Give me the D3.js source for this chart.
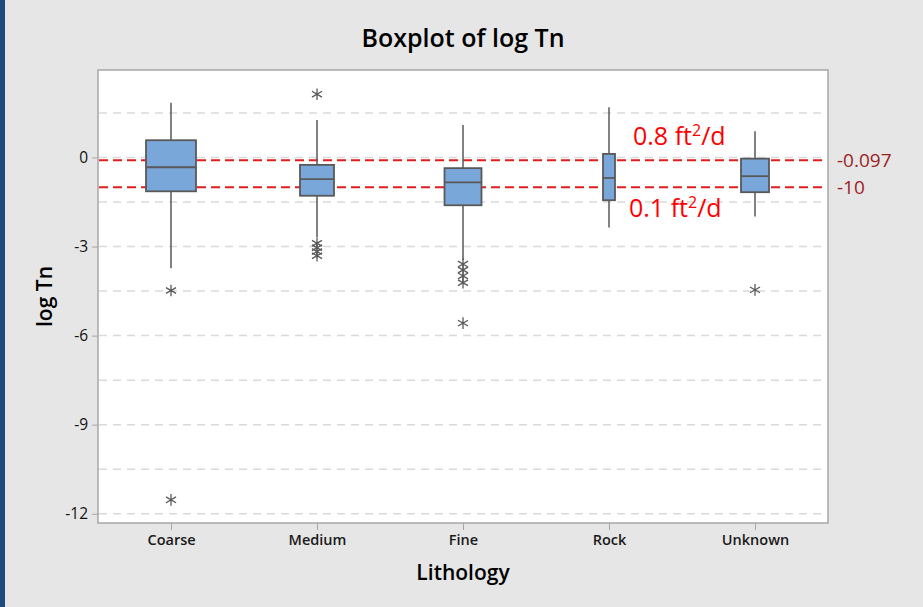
<!DOCTYPE html>
<html>
<head>
<meta charset="utf-8">
<script src="https://cdn.jsdelivr.net/npm/d3@7"></script>
<style>
  html, body { margin: 0; padding: 0; background: #e6e6e6; }
  body { width: 923px; height: 607px; overflow: hidden; }
  svg { display: block; font-family: "Segoe UI", "Open Sans", sans-serif; }
</style>
</head>
<body>
<div id="chart"></div>
<script>
// data
const categories = ["Coarse", "Medium", "Fine", "Rock", "Unknown"];
const whiskerHigh = [1.84, 1.26, 1.09, 1.69, 0.88];
const q3 = [0.58, -0.25, -0.36, 0.12, -0.04];
const median = [-0.33, -0.73, -0.84, -0.69, -0.63];
const q1 = [-1.14, -1.29, -1.61, -1.44, -1.17];
const whiskerLow = [-3.73, -2.69, -3.45, -2.36, -1.99];
const outliers = [
  [-4.48, -11.53],
  [2.13, -2.89, -3.04, -3.17, -3.31],
  [-3.59, -3.79, -3.99, -4.22, -5.58],
  [],
  [-4.46]
];
// relative box widths (boxes drawn proportional to group size)
const boxWidthRel = [1, 0.68, 0.74, 0.24, 0.56];
const yTicks = [0, -3, -6, -9, -12];
const gridValues = [1.5, 0, -1.5, -3, -4.5, -6, -7.5, -9, -10.5, -12];
const refValues = [-0.097, -1.0];
const refLabels = ["-0.097", "-10"];

const W = 923, H = 607;
const margin = { top: 70, right: 95, bottom: 84, left: 98 };
const width = W - margin.left - margin.right;
const height = H - margin.top - margin.bottom;
const maxBox = 50;
const font = "\"Segoe UI\", \"Open Sans\", sans-serif";

const svg = d3.select("#chart").append("svg")
  .attr("width", W)
  .attr("height", H);

// left blue stripe
svg.append("rect").attr("x", 0).attr("y", 0).attr("width", 5).attr("height", H).attr("fill", "#1e4a7c");

const g = svg.append("g").attr("transform", `translate(${margin.left},${margin.top})`);

const x = d3.scalePoint().domain(categories).range([0, width]).padding(0.5);
const y = d3.scaleLinear().domain([-12.31, 2.945]).range([height, 0]);

// plot area
g.append("rect")
  .attr("width", width).attr("height", height)
  .attr("fill", "#fff").attr("stroke", "#a6a6a6").attr("stroke-width", 1.5);

// grid
g.selectAll(".grid").data(gridValues).enter().append("line")
  .attr("class", "grid")
  .attr("x1", 1).attr("x2", width - 1)
  .attr("y1", d => y(d)).attr("y2", d => y(d))
  .attr("stroke", "#dadada").attr("stroke-width", 1.5)
  .attr("stroke-dasharray", "8,6");

// reference lines
g.selectAll(".ref").data(refValues).enter().append("line")
  .attr("class", "ref")
  .attr("x1", 1).attr("x2", width - 1)
  .attr("y1", d => y(d)).attr("y2", d => y(d))
  .attr("stroke", "#e01e1e").attr("stroke-width", 2)
  .attr("stroke-dasharray", "9,5");

// axes
const yAxis = g.append("g")
  .call(d3.axisLeft(y).tickValues(yTicks).tickSize(6).tickPadding(4).tickFormat(d => String(d)));
const xAxis = g.append("g")
  .attr("transform", `translate(0,${height})`)
  .call(d3.axisBottom(x).tickSize(7).tickPadding(5));
[yAxis, xAxis].forEach(a => {
  a.select(".domain").remove();
  a.selectAll(".tick line").attr("stroke", "#a6a6a6");
  a.selectAll(".tick text").attr("fill", "#111").style("font-size", "15px")
    .style("font-family", font);
});
xAxis.selectAll(".tick text").style("font-size", "14.5px").style("font-weight", 600).attr("fill", "#1a1a1a");
yAxis.selectAll(".tick text").style("font-size", "15.5px");

const boxes = categories.map((c, i) => ({
  c, hi: whiskerHigh[i], q3: q3[i], med: median[i], q1: q1[i], lo: whiskerLow[i],
  out: outliers[i], w: boxWidthRel[i] * maxBox
}));

const stroke = "#595959";
const bg = g.selectAll(".box").data(boxes).enter().append("g")
  .attr("class", "box")
  .attr("transform", d => `translate(${x(d.c)},0)`);

bg.append("line").attr("y1", d => y(d.hi)).attr("y2", d => y(d.q3))
  .attr("stroke", stroke).attr("stroke-width", 1.5);
bg.append("line").attr("y1", d => y(d.q1)).attr("y2", d => y(d.lo))
  .attr("stroke", stroke).attr("stroke-width", 1.5);
bg.append("rect")
  .attr("x", d => -d.w / 2).attr("width", d => d.w)
  .attr("y", d => y(d.q3)).attr("height", d => y(d.q1) - y(d.q3))
  .attr("fill", "#7aa7d9").attr("stroke", stroke).attr("stroke-width", 1.8);
bg.append("line")
  .attr("x1", d => -d.w / 2).attr("x2", d => d.w / 2)
  .attr("y1", d => y(d.med)).attr("y2", d => y(d.med))
  .attr("stroke", stroke).attr("stroke-width", 1.8);

const star = d3.symbol().type(d3.symbolAsterisk || d3.symbolCross).size(95);
bg.selectAll(".out").data(d => d.out).enter().append("path")
  .attr("class", "out")
  .attr("transform", d => `translate(0,${y(d)})`)
  .attr("d", star)
  .attr("fill", "none").attr("stroke", stroke).attr("stroke-width", 1.3);

// annotations
const ann = [
  { t: "0.8 ft", y: 145 - margin.top, dx: 24 },
  { t: "0.1 ft", y: 217 - margin.top, dx: 20 }
];
ann.forEach(a => {
  const txt = g.append("text")
    .attr("x", x("Rock") + a.dx).attr("y", a.y)
    .attr("fill", "#ff0000").style("font-size", "25px");
  txt.append("tspan").text(a.t);
  txt.append("tspan").text("2").attr("dy", -9).style("font-size", "16px");
  txt.append("tspan").text("/d").attr("dy", 9);
});

// ref labels on the right
g.selectAll(".reflabel").data(refValues).enter().append("text")
  .attr("class", "reflabel")
  .attr("x", width + 9).attr("y", d => y(d) + 7)
  .attr("fill", "#9b1f1f").style("font-size", "19px")
  .text((d, i) => refLabels[i]);

// titles
svg.append("text")
  .attr("x", margin.left + width / 2).attr("y", 47)
  .attr("text-anchor", "middle")
  .style("font-size", "25px").style("font-weight", 600)
  .text("Boxplot of log Tn");

svg.append("text")
  .attr("x", margin.left + width / 2).attr("y", 580)
  .attr("text-anchor", "middle")
  .style("font-size", "21px").style("font-weight", 600)
  .text("Lithology");

svg.append("text")
  .attr("transform", `translate(52,${margin.top + height / 2}) rotate(-90)`)
  .attr("text-anchor", "middle")
  .style("font-size", "21px").style("font-weight", 600)
  .text("log Tn");
</script>
</body>
</html>
